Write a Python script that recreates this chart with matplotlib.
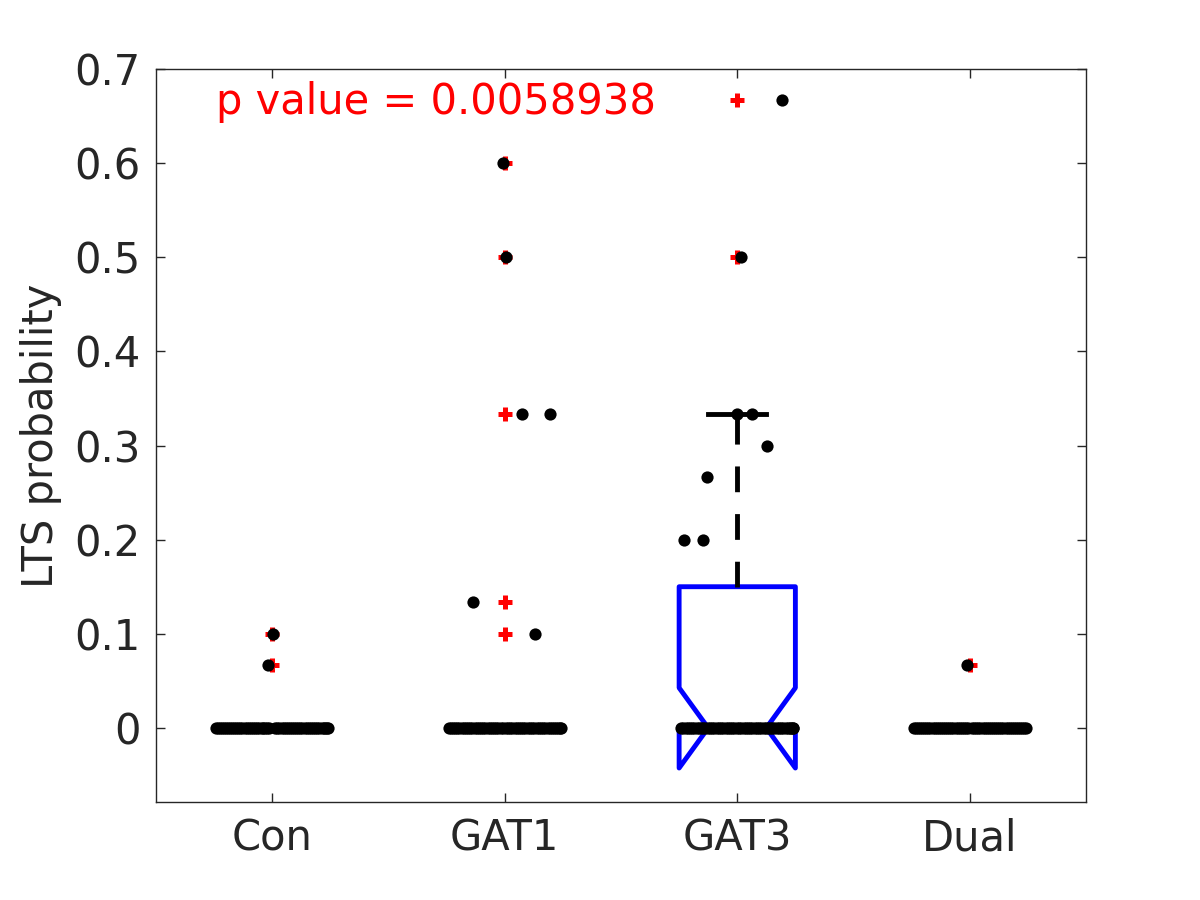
import matplotlib
matplotlib.use("Agg")
import matplotlib.pyplot as plt

# ---- data ----
groups = ["Con", "GAT1", "GAT3", "Dual"]
yticks = [0, 0.1, 0.2, 0.3, 0.4, 0.5, 0.6, 0.7]
ytick_labels = ["0", "0.1", "0.2", "0.3", "0.4", "0.5", "0.6", "0.7"]
p_text = "p value = 0.0058938"

# box statistics per group
q1 = [0.0, 0.0, 0.0, 0.0]
med = [0.0, 0.0, 0.0, 0.0]
q3 = [0.0, 0.0, 0.15, 0.0]
whislo = [0.0, 0.0, 0.0, 0.0]
whishi = [0.0, 0.0, 0.3333, 0.0]
cilo = [0.0, 0.0, -0.0426, 0.0]
cihi = [0.0, 0.0, 0.0426, 0.0]
outliers = [
    [0.1, 0.0667],
    [0.6, 0.5, 0.3333, 0.1333, 0.1],
    [0.6667, 0.5],
    [0.0667],
]

# jittered individual points: values and x offsets from group centre
zero_offsets_con = [-0.241, -0.233, -0.225, -0.216, -0.208, -0.199, -0.19, -0.181, -0.171,
                    -0.163, -0.155, -0.146, -0.137, -0.128, -0.118, -0.109, -0.1, -0.091,
                    -0.082, -0.074, -0.065, -0.055, -0.046, -0.038, -0.03, -0.021, -0.012,
                    0.012, 0.021, 0.03, 0.04, 0.049, 0.058, 0.066, 0.075, 0.085, 0.094,
                    0.103, 0.112, 0.121, 0.13, 0.139, 0.148, 0.158, 0.167, 0.176, 0.185,
                    0.194, 0.203, 0.212, 0.221, 0.229, 0.236, 0.241]
zero_offsets_gat1 = [-0.241, -0.232, -0.224, -0.214, -0.205, -0.196, -0.186, -0.177, -0.167,
                     -0.158, -0.148, -0.139, -0.13, -0.12, -0.11, -0.101, -0.092, -0.083,
                     -0.074, -0.064, -0.055, -0.046, -0.036, -0.027, -0.018, -0.006, 0.005,
                     0.014, 0.024, 0.033, 0.043, 0.052, 0.061, 0.07, 0.08, 0.089, 0.099,
                     0.108, 0.118, 0.127, 0.137, 0.146, 0.156, 0.165, 0.175, 0.184, 0.194,
                     0.203, 0.213, 0.222, 0.23, 0.236, 0.241]
zero_offsets_gat3 = [-0.241, -0.232, -0.222, -0.212, -0.203, -0.194, -0.184, -0.175, -0.165,
                     -0.156, -0.146, -0.137, -0.127, -0.118, -0.108, -0.098, -0.088, -0.079,
                     -0.069, -0.06, -0.05, -0.041, -0.031, -0.022, -0.012, -0.002, 0.008,
                     0.018, 0.027, 0.037, 0.046, 0.056, 0.065, 0.075, 0.084, 0.094, 0.103,
                     0.113, 0.122, 0.132, 0.141, 0.151, 0.16, 0.17, 0.179, 0.189, 0.198,
                     0.208, 0.217, 0.226, 0.233, 0.238, 0.241]
zero_offsets_dual = [-0.241, -0.232, -0.223, -0.214, -0.205, -0.196, -0.187, -0.178, -0.169,
                     -0.16, -0.151, -0.142, -0.133, -0.124, -0.115, -0.106, -0.097, -0.088,
                     -0.079, -0.07, -0.061, -0.052, -0.043, -0.034, -0.025, -0.016, -0.008,
                     0.01, 0.019, 0.028, 0.037, 0.046, 0.055, 0.064, 0.073, 0.082, 0.091,
                     0.1, 0.109, 0.118, 0.127, 0.136, 0.145, 0.154, 0.163, 0.172, 0.181,
                     0.19, 0.199, 0.208, 0.217, 0.226, 0.234, 0.241]
zero_offsets = [zero_offsets_con, zero_offsets_gat1, zero_offsets_gat3, zero_offsets_dual]

nonzero_vals = [
    [0.1, 0.0667],
    [0.6, 0.5, 0.3333, 0.3333, 0.1333, 0.1],
    [0.6667, 0.5, 0.3333, 0.3333, 0.3, 0.2667, 0.2, 0.2],
    [0.0667],
]
nonzero_offsets = [
    [0.004, -0.017],
    [-0.009, 0.004, 0.073, 0.194, -0.138, 0.129],
    [0.194, 0.017, 0.0, 0.065, 0.129, -0.129, -0.228, -0.146],
    [-0.013],
]

# ---- figure ----
plt.rcParams["font.family"] = ["DejaVu Sans"]
fig = plt.figure(figsize=(12, 9), dpi=100)
ax = fig.add_axes([0.13, 0.1089, 0.775, 0.8144])

positions = [1, 2, 3, 4]
stats = []
for i in range(len(groups)):
    stats.append(dict(med=med[i], q1=q1[i], q3=q3[i], whislo=whislo[i], whishi=whishi[i],
                      cilo=cilo[i], cihi=cihi[i], fliers=outliers[i], label=groups[i]))

ax.bxp(stats, positions=positions, widths=0.5, shownotches=True,
       boxprops=dict(color=(0, 0, 1), linewidth=3.5),
       whiskerprops=dict(color="black", linewidth=3.5, linestyle=(0, (5.3, 4.5))),
       capprops=dict(color="black", linewidth=3.5),
       medianprops=dict(color="red", linewidth=3.5),
       flierprops=dict(marker="+", markeredgecolor="red", markersize=10.5, markeredgewidth=3.6,
                       linestyle="none"))

for i, pos in enumerate(positions):
    xs = [pos + o for o in zero_offsets[i]] + [pos + o for o in nonzero_offsets[i]]
    ys = [0.0] * len(zero_offsets[i]) + nonzero_vals[i]
    ax.plot(xs, ys, linestyle="none", marker="o", markersize=8.8, color="black",
            markeredgewidth=0, zorder=3)

ax.text(0.758, 0.652, p_text, color="red", fontsize=30, ha="left", va="baseline")

ax.set_xlim(0.5, 4.5)
ax.set_ylim(-0.0787, 0.7)
ax.set_xticks(positions)
ax.set_xticklabels(groups)
ax.set_yticks(yticks)
ax.set_yticklabels(ytick_labels)
ax.set_ylabel("LTS probability", fontsize=30, color=(0.15, 0.15, 0.15), labelpad=9)

for sp in ax.spines.values():
    sp.set_color((0.15, 0.15, 0.15))
    sp.set_linewidth(1.0)
ax.tick_params(axis="both", direction="in", length=6.5, width=1.0, colors=(0.15, 0.15, 0.15),
               labelsize=30, top=True, right=True)
ax.tick_params(axis="y", pad=11)
ax.tick_params(axis="x", pad=11)

fig.savefig("out.png", dpi=100)
